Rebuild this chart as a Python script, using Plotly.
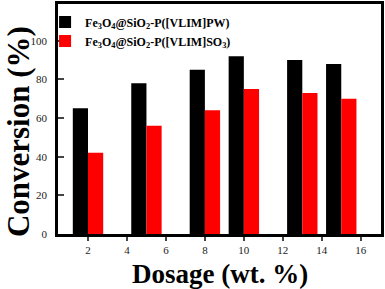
import plotly.graph_objects as go

dosage = [2, 5, 8, 10, 13, 15]
pw_values = [65, 78, 85, 92, 90, 88]
so3_values = [42, 56, 64, 75, 73, 70]
x_ticks = [2, 4, 6, 8, 10, 12, 14, 16]
y_ticks = [0, 20, 40, 60, 80, 100]

name_pw = "Fe<sub>3</sub>O<sub>4</sub>@SiO<sub>2</sub>-P([VLIM]PW)"
name_so3 = "Fe<sub>3</sub>O<sub>4</sub>@SiO<sub>2</sub>-P([VLIM]SO<sub>3</sub>)"

bw = 0.78
fig = go.Figure()
fig.add_trace(go.Bar(x=dosage, y=pw_values, name=name_pw, width=bw, offset=-bw,
                     marker=dict(color="black", line=dict(width=0))))
fig.add_trace(go.Bar(x=dosage, y=so3_values, name=name_so3, width=bw, offset=0,
                     marker=dict(color="#ff0000", line=dict(width=0))))

serif = "Liberation Serif, Times New Roman, serif"
fig.update_layout(
    width=385, height=289,
    margin=dict(l=58, r=4, t=4, b=55, autoexpand=False),
    plot_bgcolor="white", paper_bgcolor="white",
    barmode="overlay",
    font=dict(family=serif, color="black"),
    legend=dict(x=-0.04, y=0.985, xanchor="left", yanchor="top",
                bgcolor="rgba(0,0,0,0)", font=dict(family=serif, size=12, color="black", weight="bold"),
                itemwidth=30, tracegroupgap=2),
    xaxis=dict(range=[0.46, 17.04], tickvals=x_ticks, ticks="outside", ticklen=4, tickwidth=1.5,
               showline=True, linewidth=2.5, linecolor="black", mirror=True, showgrid=False,
               zeroline=False, tickfont=dict(size=11, family=serif, color="#222"),
               ticklabelstandoff=0, automargin=False),
    yaxis=dict(range=[0, 119], tickvals=y_ticks, ticks="inside", ticklen=6, tickwidth=1.5,
               showline=True, linewidth=2.5, linecolor="black", mirror=True, showgrid=False,
               zeroline=False, tickfont=dict(size=11, family=serif, color="#222"),
               ticklabelstandoff=6, automargin=False),
    annotations=[
        dict(text="Dosage (wt. %)", xref="paper", yref="paper", x=0.5, y=-0.175, yanchor="middle",
             xanchor="center", showarrow=False,
             font=dict(size=27, family=serif, weight="bold", color="black")),
        dict(text="Conversion (%)", xref="paper", yref="paper", x=0, y=0.443, textangle=-90,
             xanchor="center", yanchor="middle", showarrow=False, xshift=-40,
             font=dict(size=31, family=serif, weight="bold", color="black")),
    ],
)
fig.write_html("out.html", config={"displayModeBar": False},
               post_script="document.body.style.margin='0';")
